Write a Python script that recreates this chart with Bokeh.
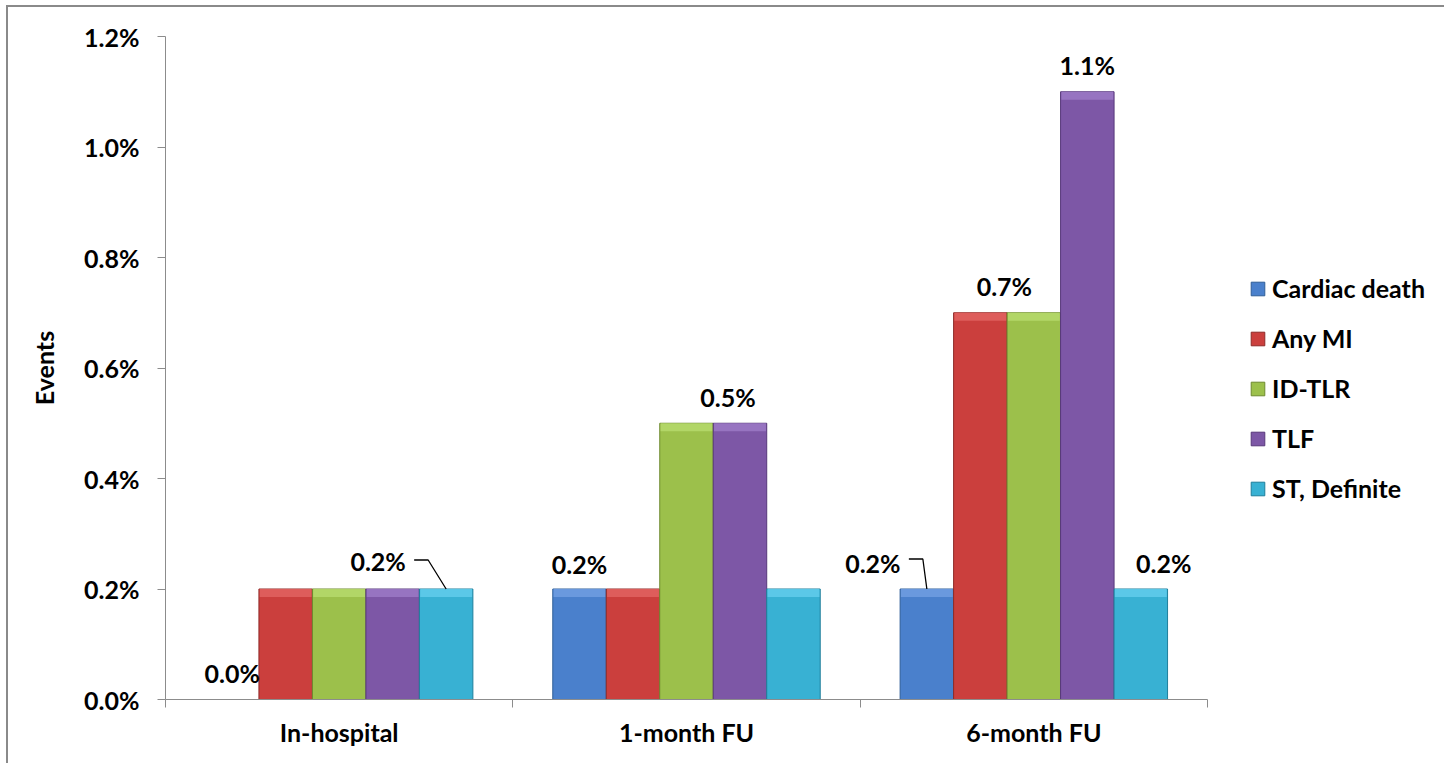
from bokeh.plotting import figure
from bokeh.models import (Range1d, FixedTicker, NumeralTickFormatter, Legend, LegendItem,
                          ColumnDataSource)
from bokeh.core.properties import value
from bokeh.embed import file_html
from bokeh.resources import INLINE

# ---------------- data ----------------
categories = ["In-hospital", "1-month FU", "6-month FU"]
series_names = ["Cardiac death", "Any MI", "ID-TLR", "TLF", "ST, Definite"]
cardiac_death = [0.000, 0.002, 0.002]
any_mi = [0.002, 0.002, 0.007]
id_tlr = [0.002, 0.005, 0.007]
tlf = [0.002, 0.005, 0.011]
st_definite = [0.002, 0.002, 0.002]
series_values = [cardiac_death, any_mi, id_tlr, tlf, st_definite]
y_ticks = [0.0, 0.002, 0.004, 0.006, 0.008, 0.010, 0.012]
y_title = "Events"

# which data labels are shown: (series index, category index)
shown_labels = [(0, 0), (4, 0), (0, 1), (3, 1), (0, 2), (1, 2), (3, 2), (4, 2)]

# ---------------- styles ----------------
colors = ["#4A80CC", "#CB3F3D", "#9CC04B", "#7D57A6", "#38B1D3"]
edge_colors = ["#2F5E98", "#8E2A28", "#6E8A2F", "#57387A", "#1F7F9C"]
top_colors = ["#6E9BE0", "#E0605E", "#B5D86A", "#9A78C4", "#5FCBEA"]
FONT = "Lato"
FS = "25px"
OX, OY = 8, 7                      # page offset of the figure (margin + border)
W, H = 1446 - OX, 765 - OY
PL, PR, PT, PB = 165, 1207, 36, 699  # plot-area edges on the page
L, T, B = PL - OX, PT - OY, 765 - PB
FW, FH = W - L, PB - PT             # frame extends to the right edge (legend lives inside)
sx = 3.0 / (PR - PL)
sy = 0.012 / FH
bar_w = 0.154
bevel_px = 8
# label offsets in pixels (dx, dy up) from bar-top centre, per shown label
label_offsets = [(0, 27), (-68, 28), (0, 25), (-12, 26), (-54, 26), (24, 27), (0, 27), (23, 26)]
# leader lines: label index -> (elbow dx, elbow dy, end dx)
leaders = {1: (-18, 29, -32), 4: (-4, 30, -18)}

p = figure(width=W, height=H, output_backend="svg", toolbar_location=None,
           x_range=Range1d(0, FW * sx), y_range=Range1d(0, 0.012),
           min_border_left=L, min_border_right=0, min_border_top=T, min_border_bottom=B)
p.styles = {"margin-left": "6px", "margin-top": "5px",
            "border-left": "2px solid #8A8A8A", "border-top": "2px solid #8A8A8A"}
p.outline_line_color = None
p.xgrid.visible = False
p.ygrid.visible = False
p.background_fill_color = "white"
p.border_fill_color = "white"

renderers = []
for k, (name, vals) in enumerate(zip(series_names, series_values)):
    xs = [i + 0.5 + (k - 2) * bar_w for i in range(len(categories))]
    src = ColumnDataSource(dict(x=xs, top=vals))
    r = p.vbar(x="x", top="top", bottom=0, width=bar_w, source=src,
               fill_color=colors[k], line_color=edge_colors[k], line_width=1)
    renderers.append(r)
    # bevel highlight along the top of each non-zero bar
    hx = [x for x, v in zip(xs, vals) if v > 0]
    ht = [v for v in vals if v > 0]
    hb = [v - bevel_px * sy for v in ht]
    p.vbar(x=hx, top=ht, bottom=hb, width=bar_w * 0.97, fill_color=top_colors[k],
           line_color=None, fill_alpha=0.9)

# data labels
lx, ly, lt = [], [], []
seg_xs, seg_ys = [], []
for j, (k, i) in enumerate(shown_labels):
    v = series_values[k][i]
    bx = i + 0.5 + (k - 2) * bar_w
    dx, dy = label_offsets[j]
    lx.append(bx + dx * sx)
    ly.append(v + dy * sy)
    lt.append(f"{v * 100:.1f}%")
    if j in leaders:
        ex, ey, endx = leaders[j]
        seg_xs.append([bx, bx + ex * sx, bx + endx * sx])
        seg_ys.append([v, v + ey * sy, v + ey * sy])

p.text(x=lx, y=ly, text=lt, text_align="center", text_baseline="middle",
       text_font=value(FONT), text_font_style="bold", text_font_size=FS, text_color="black")
p.multi_line(xs=seg_xs, ys=seg_ys, line_color="black", line_width=1.3)

# axes
ax = p.yaxis[0]
ax.ticker = FixedTicker(ticks=y_ticks)
ax.formatter = NumeralTickFormatter(format="0.0%")
ax.major_tick_out = 8
ax.major_tick_in = 0
ax.minor_tick_line_color = None
ax.axis_line_color = "#8C8C8C"
ax.major_tick_line_color = "#8C8C8C"
ax.major_label_text_font = FONT
ax.major_label_text_font_style = "bold"
ax.major_label_text_font_size = FS
ax.major_label_text_color = "black"
ax.major_label_standoff = 18
ax.axis_label = y_title
ax.axis_label_text_font = FONT
ax.axis_label_text_font_style = "bold"
ax.axis_label_text_font_size = FS
ax.axis_label_text_color = "black"
ax.axis_label_standoff = 22

xa = p.xaxis[0]
xa.bounds = (0, len(categories))
xa.ticker = FixedTicker(ticks=[i + 0.5 for i in range(len(categories))],
                        minor_ticks=list(range(len(categories) + 1)))
xa.major_label_overrides = {i + 0.5: c for i, c in enumerate(categories)}
xa.major_tick_out = 0
xa.major_tick_in = 0
xa.minor_tick_out = 8
xa.minor_tick_in = 0
xa.minor_tick_line_color = "#8C8C8C"
xa.axis_line_color = "#8C8C8C"
xa.major_label_text_font = FONT
xa.major_label_text_font_style = "bold"
xa.major_label_text_font_size = FS
xa.major_label_text_color = "black"
xa.major_label_standoff = 9

legend = Legend(items=[LegendItem(label=n, renderers=[r]) for n, r in zip(series_names, renderers)],
                location=(1249 - PL, PB - 503), padding=0, margin=0, spacing=20,
                glyph_width=17, glyph_height=17, label_height=30, label_standoff=6,
                label_text_font=FONT, label_text_font_style="bold", label_text_font_size=FS,
                label_text_color="black", border_line_color=None, background_fill_alpha=0)
p.add_layout(legend, "center")

open("out.html", "w").write(file_html(p, INLINE))
